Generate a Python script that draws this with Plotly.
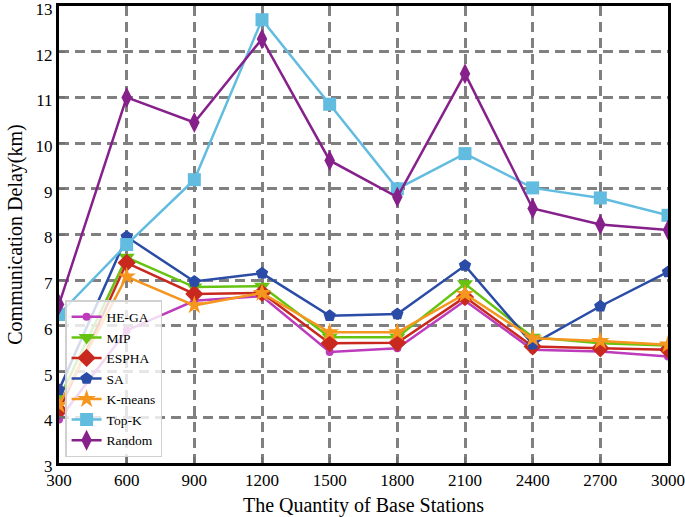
import plotly.graph_objects as go

x_vals = [300, 600, 900, 1200, 1500, 1800, 2100, 2400, 2700, 3000]

he_ga = [3.95, 5.90, 6.55, 6.65, 5.43, 5.51, 6.55, 5.48, 5.44, 5.33]
mip = [4.40, 7.50, 6.85, 6.87, 5.75, 5.75, 6.92, 5.75, 5.62, 5.57]
espha = [4.15, 7.38, 6.70, 6.72, 5.62, 5.63, 6.63, 5.55, 5.51, 5.48]
sa = [4.60, 7.95, 6.97, 7.15, 6.22, 6.26, 7.32, 5.60, 6.43, 7.18]
kmeans = [4.27, 7.08, 6.45, 6.72, 5.86, 5.86, 6.70, 5.73, 5.67, 5.59]
topk = [6.25, 7.78, 9.20, 12.70, 10.85, 9.00, 9.77, 9.02, 8.80, 8.42]
random_ = [6.47, 11.00, 10.45, 12.28, 9.62, 8.82, 11.52, 8.57, 8.22, 8.10]

series = [
    ("HE-GA", he_ga, "#BC3CBC", "circle", 8),
    ("MIP", mip, "#66C410", "triangle-down", 14),
    ("ESPHA", espha, "#C8281E", "diamond", 14),
    ("SA", sa, "#2A4CA6", "pentagon", 13),
    ("K-means", kmeans, "#F5961E", "star", 14),
    ("Top-K", topk, "#62BCE0", "square", 13),
    ("Random", random_, "#86208A", "diamond-tall", 15),
]

fig = go.Figure()
for name, vals, color, sym, size in series:
    fig.add_trace(go.Scatter(
        x=x_vals, y=vals, name=name, mode="lines+markers",
        line=dict(color=color, width=2.5),
        marker=dict(symbol=sym, size=size, color=color),
    ))

font_family = "Liberation Serif, Times New Roman, serif"
fig.update_layout(
    width=685, height=517,
    margin=dict(l=59, r=17, t=6, b=54),
    paper_bgcolor="white", plot_bgcolor="white",
    font=dict(family=font_family, size=17, color="black"),
    showlegend=True,
    legend=dict(
        x=0.01, y=0.013, xanchor="left", yanchor="bottom",
        bgcolor="rgba(255,255,255,0.8)", bordercolor="#D0D0D0", borderwidth=1.5,
        font=dict(family=font_family, size=13.5, color="black"),
        tracegroupgap=0, itemwidth=30,
    ),
)
fig.update_xaxes(
    range=[300, 3000], tickvals=x_vals, automargin=False, ticklabeloverflow="allow",
    showgrid=True, gridcolor="#808080", gridwidth=2.5, griddash="10px,6px",
    showline=True, linecolor="black", linewidth=3, mirror=True,
    ticks="inside", ticklen=6, tickcolor="#707070", tickwidth=2,
    zeroline=False,
    title=dict(text="The Quantity of Base Stations", font=dict(size=20), standoff=9),
    tickfont=dict(size=17),
)
fig.update_yaxes(
    range=[3, 13], tickvals=list(range(3, 14)), automargin=False, ticklabeloverflow="allow",
    ticklabelshift=3,
    showgrid=True, gridcolor="#808080", gridwidth=2.5, griddash="10px,6px",
    showline=True, linecolor="black", linewidth=3, mirror=True,
    ticks="inside", ticklen=6, tickcolor="#707070", tickwidth=2,
    zeroline=False,
    title=dict(text="Communication Delay(km)", font=dict(size=20), standoff=8),
    tickfont=dict(size=17),
)

fig.write_html(
    "out.html",
    config={"displayModeBar": False},
    post_script="document.body.style.margin='0';document.body.style.overflow='hidden';",
)
